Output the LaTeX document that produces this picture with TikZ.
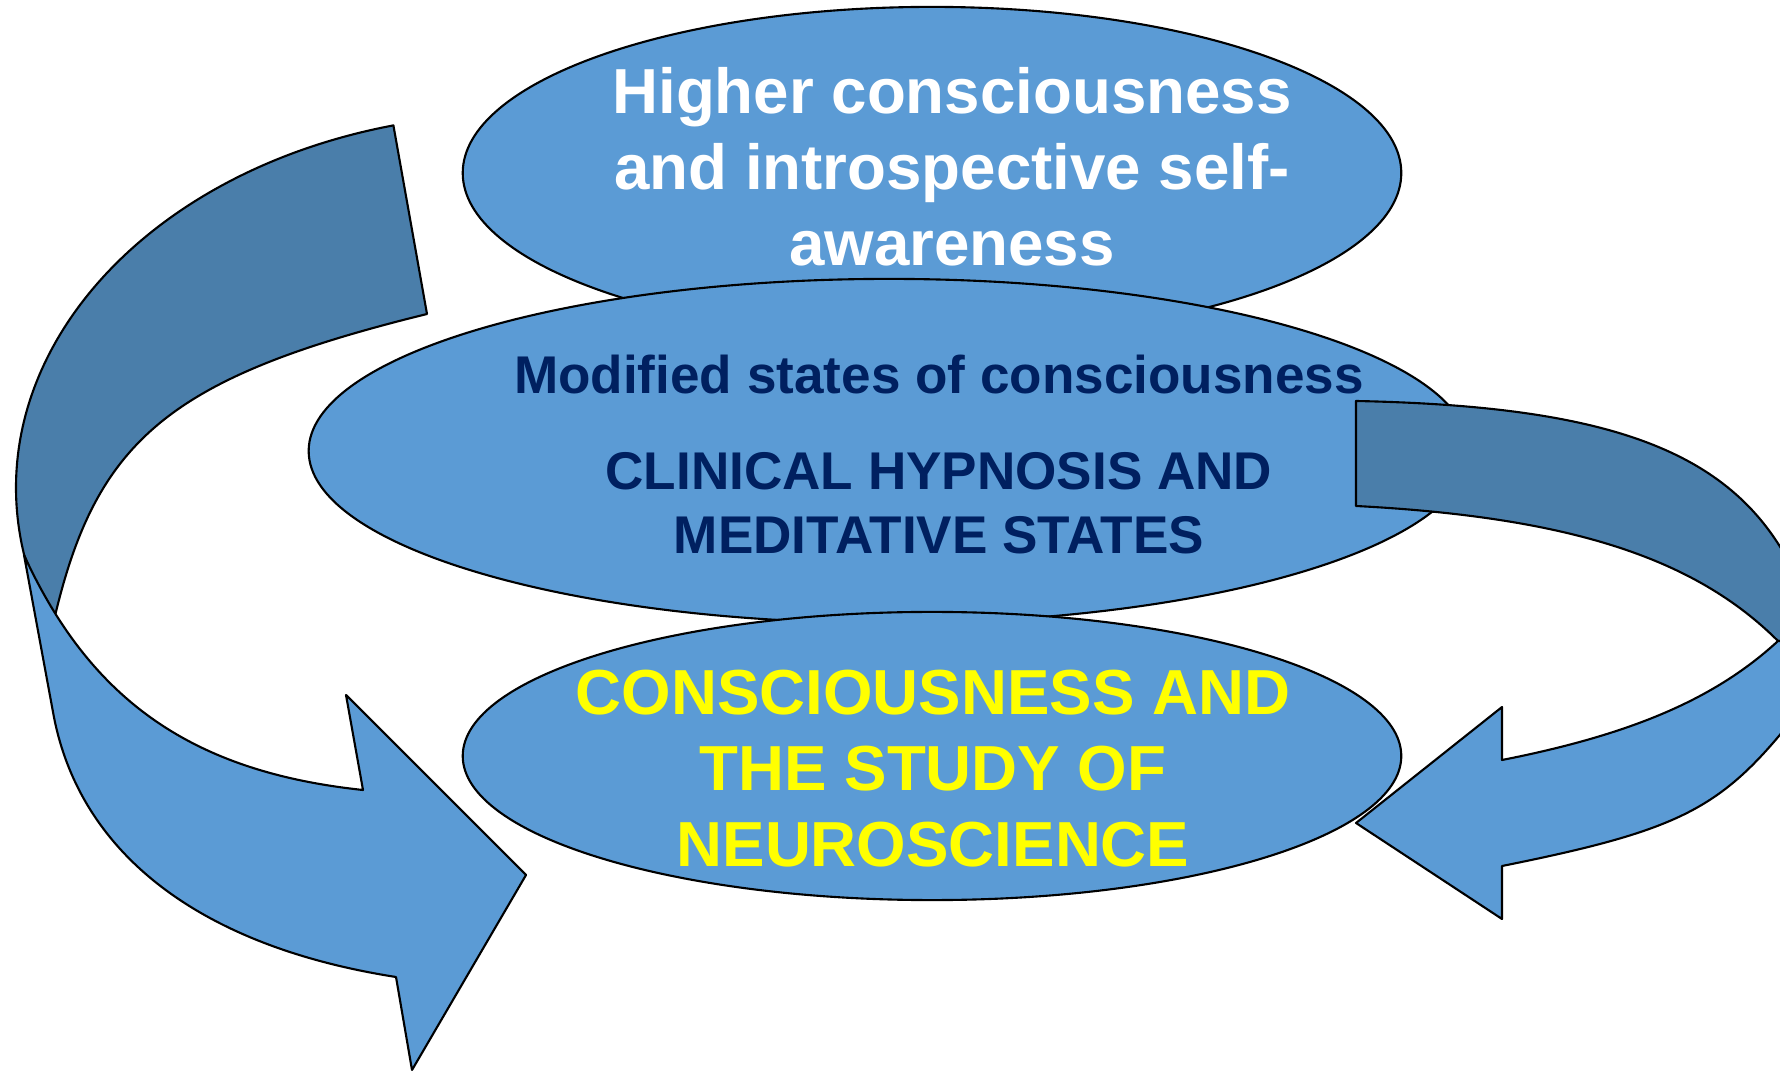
\documentclass[tikz,border=0pt]{standalone}
\usepackage{fontspec}
\setmainfont{Liberation Sans}
\usepackage{tikz}
\usetikzlibrary{shapes.geometric}

\definecolor{ovalblue}{RGB}{91,155,213}
\definecolor{backblue}{RGB}{74,126,170}
\definecolor{navytext}{RGB}{0,32,96}
\definecolor{neuroyellow}{RGB}{255,255,0}

\tikzset{
  oval/.style={ellipse, draw=black, line width=0.6pt, fill=ovalblue, inner sep=0pt},
  band/.style={draw=black, line width=0.6pt, line join=round},
  bigtext/.style={font=\bfseries\fontsize{18.1}{21.6}\selectfont, align=center, inner sep=0pt},
  smalltext/.style={font=\bfseries\fontsize{15.1}{18.2}\selectfont, align=center, text=navytext, inner sep=0pt}
}

\begin{document}
\begin{tikzpicture}[x=0.01cm, y=-0.01cm]
      \useasboundingbox (0,0) rectangle (1780,1071);
      \clip (0,0) rectangle (1780,1071);

      \node[oval, minimum width=9.38cm, minimum height=3.32cm] (higher) at (932,173) {};
      \node[oval, minimum width=11.6cm, minimum height=3.44cm] (modified) at (889,451) {};
      \node[oval, minimum width=9.38cm, minimum height=2.88cm] (neuro) at (932,756) {};

      \node[bigtext, text=white] (highertext) at (952,167) {Higher consciousness\\and introspective self-\\awareness};
      \node[smalltext, anchor=base] (modtitle) at (939,394) {Modified states of consciousness};
      \node[smalltext] (hypnosis) at (939,503) {CLINICAL HYPNOSIS AND\\MEDITATIVE STATES};
      \node[bigtext, text=neuroyellow] (neurotext) at (933,769) {CONSCIOUSNESS AND\\THE STUDY OF\\NEUROSCIENCE};

      % left arrow, back then front
      \filldraw[band, fill=backblue] (393.4,125.4)
        arc[start angle=255.8, end angle=169.7, x radius=500, y radius=374]
        -- (56,640) -- (55,616)
        .. controls (97,439) and (171,377) .. (427,314) -- cycle;
      \filldraw[band, fill=ovalblue] (24,555) -- (53,712)
        .. controls (78,852) and (198,946) .. (396,977)
        -- (412,1070) -- (526,875) -- (346,695) -- (363,790)
        .. controls (193,772) and (91,701) .. (24,555) -- cycle;

      % right arrow
      \filldraw[band, fill=backblue] (1356,401)
        .. controls (1604,406) and (1724,449) .. (1785,555)
        -- (1790,641) -- (1778,641)
        .. controls (1694,557) and (1567,517) .. (1356,506) -- cycle;
      \filldraw[band, fill=ovalblue] (1778,641) -- (1790,641) -- (1788,725)
        .. controls (1719,810) and (1676,831) .. (1502,866)
        -- (1502,919) -- (1356,823) -- (1502,707) -- (1502,760)
        .. controls (1634,734) and (1716,698) .. (1778,641) -- cycle;
\end{tikzpicture}
\end{document}
